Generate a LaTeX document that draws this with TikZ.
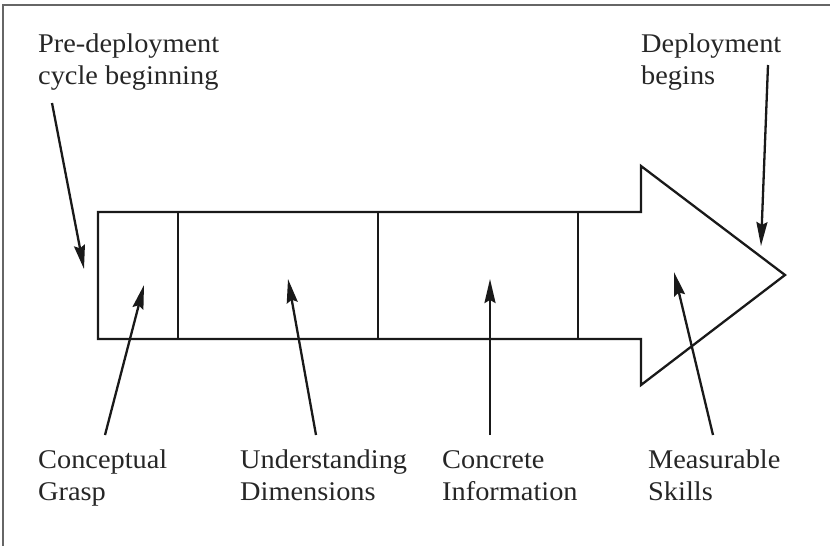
\documentclass[tikz,border=0pt]{standalone}
\usepackage{fontspec}
\setmainfont{Liberation Serif}[FakeStretch=1.05]
\usetikzlibrary{arrows.meta}
\begin{document}
\begin{tikzpicture}[x=1pt,y=-1pt,
  lbl/.style={anchor=base west,align=left,inner sep=0pt,font=\fontsize{27}{32}\selectfont,text=black!85},
  shapeline/.style={line width=2.3pt,line join=miter,black!90},
  ptr/.style={line width=2.3pt,black!90,-{Stealth[length=24pt,width=11pt,inset=3pt]}},
  frameline/.style={line width=2pt,black!60}]
\useasboundingbox (0,0) rectangle (830,546);
% frame
\draw[frameline] (3,546) -- (3,5) -- (830,5);
% big arrow
\draw[shapeline] (98,212) -- (641,212) -- (641,166) -- (785,275) -- (641,385) -- (641,339) -- (98,339) -- cycle;
\draw[shapeline] (178,212) -- (178,339);
\draw[shapeline] (378,212) -- (378,339);
\draw[shapeline] (578,212) -- (578,339);
% labels (anchor at baseline of the last line)
\node[lbl] (pre) at (38,84) {Pre-deployment\\cycle beginning};
\node[lbl] (dep) at (641,84) {Deployment\\begins};
\node[lbl] (cg) at (38,500) {Conceptual\\Grasp};
\node[lbl] (ud) at (240,500) {Understanding\\Dimensions};
\node[lbl] (ci) at (442,500) {Concrete\\Information};
\node[lbl] (ms) at (648,500) {Measurable\\Skills};
% arrow endpoints
\coordinate (preS) at (52,103);  \coordinate (preT) at (84,269);
\coordinate (depS) at (768,65);  \coordinate (depT) at (761,246);
\coordinate (cgS) at (105,435);  \coordinate (cgT) at (144,285);
\coordinate (udS) at (316,435);  \coordinate (udT) at (288,279);
\coordinate (ciS) at (490,435);  \coordinate (ciT) at (490,279);
\coordinate (msS) at (713,435);  \coordinate (msT) at (674,272);
\draw[ptr] (preS) -- (preT);
\draw[ptr] (depS) -- (depT);
\draw[ptr] (cgS) -- (cgT);
\draw[ptr] (udS) -- (udT);
\draw[ptr] (ciS) -- (ciT);
\draw[ptr] (msS) -- (msT);
\end{tikzpicture}
\end{document}
